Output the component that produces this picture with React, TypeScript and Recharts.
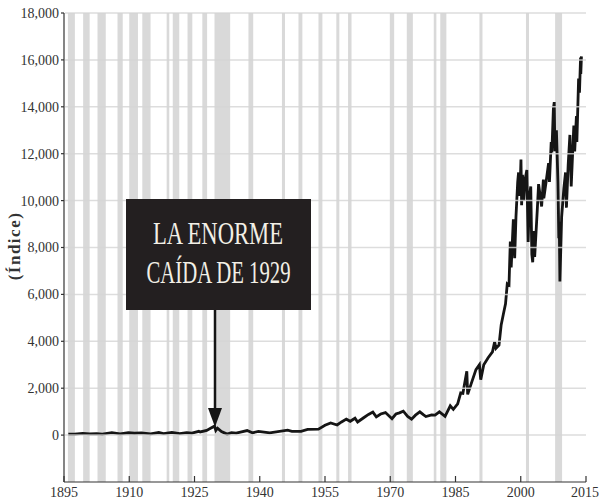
import { LineChart, Line, XAxis, YAxis, ReferenceArea } from 'recharts';

// Dow Jones index (year, index value)
const years = [
  1896.0, 1897.4, 1899.3, 1900.9, 1902.5, 1903.8, 1906.0, 1907.9, 1909.8, 1911.2,
  1912.8, 1914.9, 1916.8, 1917.9, 1919.8, 1921.6, 1923.2, 1924.4, 1926.0, 1926.3,
  1927.8, 1928.8, 1929.6, 1929.9, 1930.3, 1931.2, 1932.5, 1933.5, 1934.6, 1937.1,
  1938.3, 1939.7, 1942.3, 1946.4, 1947.4, 1949.5, 1951.0, 1953.5, 1955.0, 1956.3,
  1957.8, 1958.8, 1959.9, 1960.8, 1961.9, 1962.5, 1963.8, 1965.0, 1966.0, 1966.8,
  1967.8, 1968.9, 1970.4, 1971.3, 1972.1, 1973.0, 1974.0, 1974.9, 1975.8, 1976.8,
  1977.6, 1978.2, 1979.5, 1980.3, 1981.3, 1982.6, 1983.8, 1984.5, 1985.5, 1986.2,
  1986.7, 1987.6, 1987.8, 1988.5, 1989.7, 1990.5, 1990.8, 1991.5, 1992.5, 1993.5,
  1994.0, 1994.3, 1995.0, 1995.5, 1996.0, 1996.5, 1996.9, 1997.3, 1997.6, 1997.8,
  1998.3, 1998.6, 1998.9, 1999.3, 1999.5, 1999.8, 2000.05, 2000.2, 2000.4, 2000.7,
  2001.0, 2001.4, 2001.7, 2002.0, 2002.3, 2002.55, 2002.75, 2003.0, 2003.2, 2003.8,
  2004.1, 2004.8, 2005.2, 2005.3, 2005.9, 2006.4, 2006.6, 2007.0, 2007.15, 2007.5,
  2007.7, 2007.85, 2008.2, 2008.55, 2008.75, 2008.85, 2009.0, 2009.4, 2009.9, 2010.3,
  2010.5, 2010.9, 2011.3, 2011.6, 2012.2, 2012.4, 2012.8, 2012.9, 2013.3, 2013.5,
  2013.75, 2013.8, 2013.95,
];
const dow = [
  40, 45, 76, 55, 67, 42, 103, 53, 100, 80,
  94, 54, 110, 66, 119, 64, 105, 88, 162, 136,
  200, 300, 381, 198, 294, 150, 41, 108, 86, 194,
  99, 155, 93, 212, 163, 161, 240, 256, 420, 521,
  430, 560, 680, 590, 720, 560, 730, 880, 980, 780,
  900, 960, 700, 900, 950, 1020, 800, 680, 850, 990,
  870, 790, 860, 850, 990, 800, 1250, 1100, 1330, 1800,
  1780, 2722, 1738, 2130, 2791, 2999, 2365, 3000, 3300, 3550,
  3978, 3700, 3840, 4700, 5150, 5600, 6450, 6400, 8250, 7150,
  9200, 7540, 9300, 10800, 11200, 10200, 11750, 9800, 11100, 10000,
  10900, 11300, 8240, 10200, 10600, 7700, 7370, 8700, 7600, 9600,
  10700, 9750, 10900, 10100, 10900, 11600, 10800, 12500, 12050, 13900,
  14200, 12100, 13000, 10800, 8400, 9100, 6550, 9300, 10500, 11200,
  9700, 11500, 12800, 10600, 13200, 12100, 13600, 12500, 15200, 14600,
  16100, 15400, 16150,
];

// recession periods (gray bands)
const recessionStart = [
  1895.9, 1899.4, 1902.7, 1907.3, 1910.0, 1913.0, 1918.6, 1920.0, 1923.4, 1926.8,
  1929.6, 1937.4, 1945.1, 1948.9, 1953.5, 1957.6, 1960.3, 1969.9, 1973.8, 1980.0,
  1981.5, 1990.5, 2001.2, 2007.9,
];
const recessionEnd = [
  1897.5, 1900.9, 1904.6, 1908.5, 1912.0, 1914.9, 1919.2, 1921.5, 1924.5, 1927.9,
  1933.2, 1938.5, 1945.8, 1949.8, 1954.4, 1958.3, 1961.1, 1970.9, 1975.2, 1980.6,
  1982.9, 1991.2, 2001.9, 2009.5,
];

const yearTicks = [1895, 1910, 1925, 1940, 1955, 1970, 1985, 2000, 2015];
const indexTicks = [0, 2000, 4000, 6000, 8000, 10000, 12000, 14000, 16000, 18000];

const data = years.map((year, i) => ({ year, dow: dow[i] }));

const serif = '"Liberation Serif", "Times New Roman", serif';
const plotLeft = 64;
const plotRight = 586;
const plotTop = 13;
const plotBottom = 482;
const yMin = -2000;
const yMax = 18000;
const yPos = (v: number) => plotTop + ((yMax - v) / (yMax - yMin)) * (plotBottom - plotTop);

export default function App() {
  return (
    <div style={{ position: 'absolute', left: 0, top: 0, width: 599, height: 504, background: '#fff' }}>
      <LineChart width={599} height={504} data={data} margin={{ top: plotTop, right: 599 - plotRight, left: 0, bottom: 0 }}>
        {recessionStart.map((start, i) => (
          <ReferenceArea
            key={start}
            x1={start}
            x2={recessionEnd[i]}
            fill="#d9d9d9"
            fillOpacity={1}
            stroke="none"
          />
        ))}
        <XAxis
          dataKey="year"
          type="number"
          domain={[1895, 2015]}
          ticks={yearTicks}
          height={504 - plotBottom}
          tickSize={-6}
          tickMargin={11}
          axisLine={{ stroke: '#333', strokeWidth: 1.2 }}
          tickLine={{ stroke: '#333', strokeWidth: 1.2 }}
          tick={{ fill: '#333', fontSize: 14, fontFamily: serif }}
        />
        <YAxis
          type="number"
          domain={[yMin, yMax]}
          ticks={indexTicks}
          width={plotLeft}
          tickSize={3}
          tickMargin={2}
          tickFormatter={(v: number) => v.toLocaleString('en-US')}
          axisLine={{ stroke: '#333', strokeWidth: 1.2 }}
          tickLine={{ stroke: '#333', strokeWidth: 1.2 }}
          tick={{ fill: '#333', fontSize: 14, fontFamily: serif }}
        />
        <Line
          dataKey="dow"
          type="linear"
          stroke="#151515"
          strokeWidth={2.8}
          dot={false}
          isAnimationActive={false}
        />
      </LineChart>
      <svg
        width={599}
        height={504}
        style={{ position: 'absolute', left: 0, top: 0, pointerEvents: 'none' }}
      >
        {indexTicks.map((v) => (
          <line
            key={v}
            x1={plotLeft + 1}
            x2={plotRight}
            y1={yPos(v)}
            y2={yPos(v)}
            stroke="#d4d4d4"
            strokeOpacity={0.8}
            strokeWidth={1.5}
          />
        ))}
        <text
          transform="translate(20,246) rotate(-90)"
          textAnchor="middle"
          fontFamily={serif}
          fontWeight="bold"
          fontSize={17}
          letterSpacing={1.5}
          fill="#333"
        >
          (Índice)
        </text>
        <rect x={126} y={199} width={185} height={111} fill="#231f20" />
        <text
          x={218}
          y={243.5}
          textAnchor="middle"
          fontFamily={serif}
          fontSize={31}
          fill="#f2efe6"
          textLength={130}
          lengthAdjust="spacingAndGlyphs"
        >
          LA ENORME
        </text>
        <text
          x={218.5}
          y={283}
          textAnchor="middle"
          fontFamily={serif}
          fontSize={31}
          fill="#f2efe6"
          textLength={144}
          lengthAdjust="spacingAndGlyphs"
        >
          CAÍDA DE 1929
        </text>
        <line x1={215} y1={310} x2={215} y2={410} stroke="#151515" strokeWidth={2.5} />
        <polygon points="208,408 222,408 215,427" fill="#151515" />
      </svg>
    </div>
  );
}
